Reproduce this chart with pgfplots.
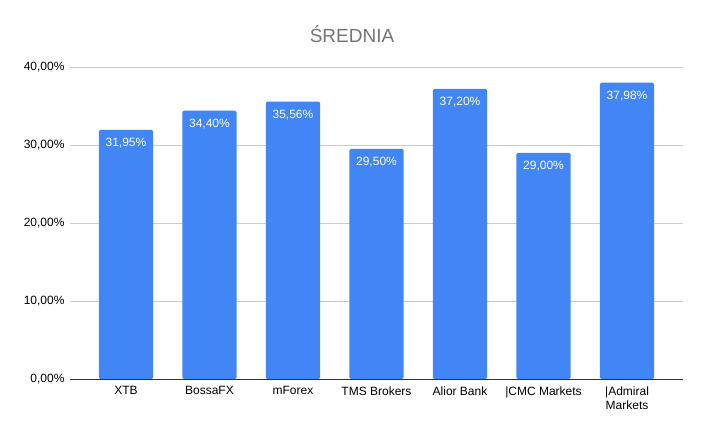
\documentclass[border=0pt]{standalone}
\usepackage{pgfplots}
\pgfplotsset{compat=1.18}
\usepackage{fontspec}
\setmainfont{Liberation Sans}
\definecolor{barblue}{HTML}{4285F4}
\definecolor{gridgray}{HTML}{CCCCCC}
\definecolor{titlegray}{HTML}{757575}
\begin{document}
\begin{tikzpicture}[x=1pt,y=1pt]
\useasboundingbox (-70,-56) rectangle (634,379);
\begin{axis}[
  at={(0,0)}, anchor=south west,
  scale only axis, width=613pt, height=312pt,
  xmin=-0.67, xmax=6.67,
  ymin=0, ymax=40,
  ytick={0,10,20,30,40},
  xtick=data,
  xticklabels={XTB,BossaFX,mForex,TMS Brokers,Alior Bank,{|CMC Markets},{|Admiral\\Markets}},
  xticklabel style={align=center, font=\fontsize{12}{14}\selectfont, anchor=north, yshift=-4pt},
  yticklabel={\pgfmathprintnumber[fixed,fixed zerofill,precision=2,use comma]{\tick}\%},
  yticklabel style={font=\fontsize{12}{14}\selectfont, xshift=-2pt},
  /pgf/number format/assume math mode=true,
  ymajorgrids, grid style={gridgray, line width=0.8pt},
  axis line style={draw=none},
  major tick length=0pt,
  ybar, bar width=0.65,
  nodes near coords={\pgfmathprintnumber[fixed,fixed zerofill,precision=2,use comma]{\pgfplotspointmeta}\%},
  every node near coord/.append style={anchor=north, yshift=-5pt, text=white, font=\fontsize{12}{14}\selectfont},
  clip=false,
]
\addplot[fill=barblue, draw=none, rounded corners=1.5pt] coordinates {(0,31.95) (1,34.40) (2,35.56) (3,29.50) (4,37.20) (5,29.00) (6,37.98)};
\draw[black!80, line width=0.8pt] (axis cs:-0.67,0) -- (axis cs:6.67,0);
\end{axis}
\node[text=titlegray, font=\fontsize{19}{22}\selectfont] at (282,345) {ŚREDNIA};
\end{tikzpicture}
\end{document}
